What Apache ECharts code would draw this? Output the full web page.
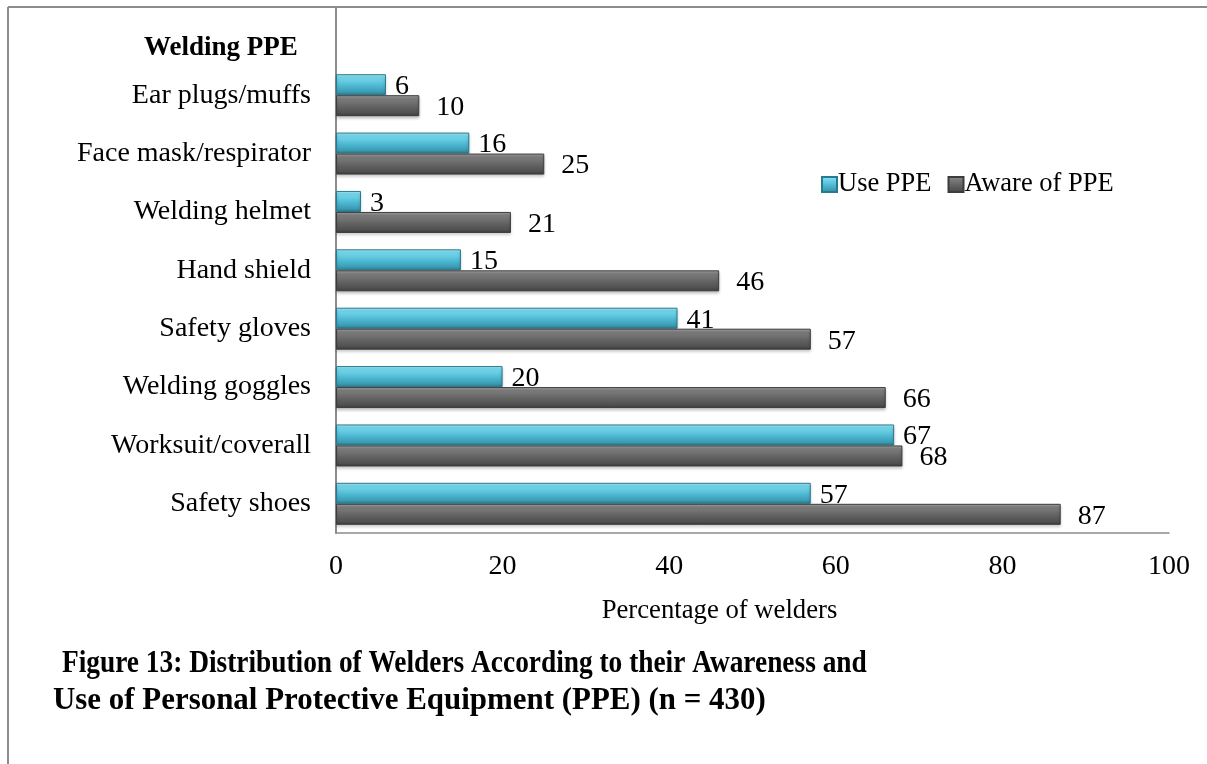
<!DOCTYPE html>
<html>
<head>
<meta charset="utf-8">
<script src="https://cdn.jsdelivr.net/npm/echarts@6/dist/echarts.min.js"></script>
<style>html,body{margin:0;padding:0;background:#fff}#c{width:1207px;height:764px}</style>
</head>
<body>
<div id="c"></div>
<script>
const categories = ['Ear plugs/muffs','Face mask/respirator','Welding helmet','Hand shield','Safety gloves','Welding goggles','Worksuit/coverall','Safety shoes'];
const usePPE = [6, 16, 3, 15, 41, 20, 67, 57];
const awarePPE = [10, 25, 21, 46, 57, 66, 68, 87];
const xTicks = [0, 20, 40, 60, 80, 100];

const FONT = "'Liberation Serif', 'Times New Roman', serif";
const chart = echarts.init(document.getElementById('c'), null, {renderer: 'canvas'});

function grad(stops) {
  return new echarts.graphic.LinearGradient(0, 0, 0, 1, stops.map(c => ({offset: c[0], color: c[1]})));
}
const cyan = grad([[0,'#a6eefb'],[0.18,'#74d8ee'],[0.6,'#4ab4cd'],[0.85,'#3a9bb3'],[1,'#2a7487']]);
const gray = grad([[0,'#a8a8a8'],[0.18,'#7d7d7d'],[0.6,'#5f5f5f'],[0.85,'#505050'],[1,'#3a3a3a']]);

chart.setOption({
  backgroundColor: '#fff',
  animation: false,
  textStyle: {fontFamily: FONT, color: '#000'},
  grid: {left: 336, right: 38, top: 66, bottom: 231, containLabel: false},
  legend: {
    left: 816, top: 166, itemWidth: 15, itemHeight: 15, itemGap: 16,
    icon: 'rect',
    textStyle: {fontFamily: FONT, fontSize: 26.5, color: '#000', padding: [0,0,0,-4]},
    data: ['Use PPE', 'Aware of PPE']
  },
  xAxis: {
    type: 'value', min: 0, max: 100, interval: 20,
    axisLine: {show: true, lineStyle: {color: '#8c8c8c', width: 1.5}},
    axisTick: {show: false},
    splitLine: {show: false},
    axisLabel: {fontFamily: FONT, fontSize: 28, color: '#000', margin: 20,
      formatter: v => xTicks.indexOf(v) >= 0 ? String(v) : ''},
    name: 'Percentage of welders', nameLocation: 'middle', nameGap: 64,
    nameTextStyle: {fontFamily: FONT, fontSize: 26.7, color: '#000', padding: [0, 66, 0, 0]}
  },
  yAxis: {
    type: 'category', data: categories, inverse: true,
    axisLine: {show: true, lineStyle: {color: '#8c8c8c', width: 2}},
    axisTick: {show: false},
    axisLabel: {fontFamily: FONT, fontSize: 28, color: '#000', margin: 25}
  },
  series: [
    {
      name: 'Use PPE', type: 'bar', data: usePPE, barWidth: 21, barGap: '0%',
      itemStyle: {color: cyan, borderColor: '#2a7a8e', borderWidth: 1,
        shadowColor: 'rgba(0,0,0,0.25)', shadowBlur: 3, shadowOffsetY: 2},
      label: {show: true, position: 'right', distance: 9, offset: [0, 2], fontFamily: FONT, fontSize: 28, color: '#000'}
    },
    {
      name: 'Aware of PPE', type: 'bar', data: awarePPE, barWidth: 21,
      itemStyle: {color: gray, borderColor: '#3c3c3c', borderWidth: 1,
        shadowColor: 'rgba(0,0,0,0.25)', shadowBlur: 3, shadowOffsetY: 2},
      label: {show: true, position: 'right', distance: 17, offset: [0, 2], fontFamily: FONT, fontSize: 28, color: '#000'}
    }
  ],
  graphic: [
    {type: 'line', shape: {x1: 8, y1: 7, x2: 1207, y2: 7}, style: {stroke: '#8c8c8c', lineWidth: 2}},
    {type: 'line', shape: {x1: 8, y1: 7, x2: 8, y2: 764}, style: {stroke: '#8c8c8c', lineWidth: 2}},
    {type: 'line', shape: {x1: 336, y1: 7, x2: 336, y2: 66}, style: {stroke: '#8c8c8c', lineWidth: 2}},
    {type: 'text', left: 144, top: 35, style: {text: 'Welding PPE', font: 'bold 27px ' + FONT, fill: '#000'}},
    {type: 'text', x: 62, y: 649, scaleX: 0.897, style: {
      x: 0, y: 0, verticalAlign: 'top', align: 'left',
      text: 'Figure 13: Distribution of Welders According to their Awareness and',
      font: 'bold 30.5px ' + FONT, fill: '#000'}},
    {type: 'text', x: 53, y: 686, scaleX: 1.014, style: {
      x: 0, y: 0, verticalAlign: 'top', align: 'left',
      text: 'Use of Personal Protective Equipment (PPE) (n = 430)',
      font: 'bold 30.5px ' + FONT, fill: '#000'}}
  ]
});
</script>
</body>
</html>
